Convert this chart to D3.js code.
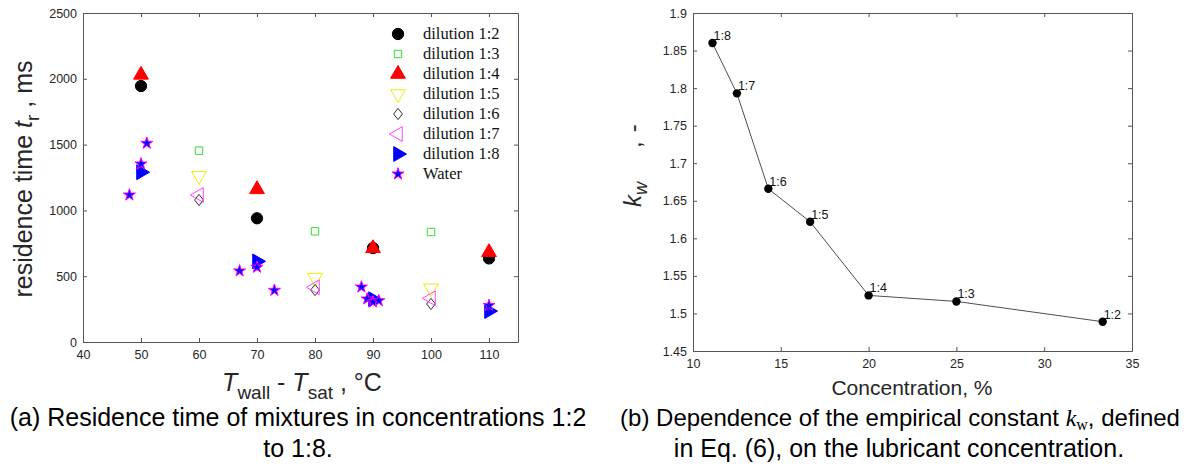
<!DOCTYPE html>
<html lang="en">
<head>
    <meta charset="UTF-8">
    <title>Residence time and k_w</title>
    <script src="https://d3js.org/d3.v7.min.js"></script>
    <style>
        body { margin: 0; background: #fff; }
        text { font-family: "Liberation Sans", Arial, sans-serif; }
    </style>
</head>
<body>
<div id="chart"></div>
<script>
    // ---- data, panel (a): residence time vs wall superheat ----
    var d12x = [50, 70, 90, 110];
    var d12y = [1945, 940, 714, 635];
    var d13x = [60, 80, 100];
    var d13y = [1454, 841, 836];
    var d14x = [50, 70, 90, 110];
    var d14y = [2030, 1160, 712, 682];
    var d15x = [60, 80, 100];
    var d15y = [1262, 489, 408];
    var d16x = [60, 80, 100];
    var d16y = [1079, 395, 289];
    var d17x = [60, 80, 100];
    var d17y = [1117, 416, 332];
    var d18x = [50, 70, 90, 110];
    var d18y = [1290, 613, 325, 235];
    var waterX = [48, 50, 51, 67, 70, 73, 88, 89, 90, 91, 110];
    var waterY = [1117, 1353, 1510, 540, 568, 393, 418, 327, 304, 314, 278];

    // ---- data, panel (b): k_w vs concentration ----
    var concLabels = ["1:8", "1:7", "1:6", "1:5", "1:4", "1:3", "1:2"];
    var concPct = [11.11, 12.5, 14.29, 16.67, 20, 25, 33.33];
    var kw = [1.860, 1.793, 1.666, 1.622, 1.524, 1.516, 1.489];

    var xTicksA = [40, 50, 60, 70, 80, 90, 100, 110];
    var yTicksA = [0, 500, 1000, 1500, 2000, 2500];
    var xTicksB = [10, 15, 20, 25, 30, 35];
    var yTicksB = [1.45, 1.5, 1.55, 1.6, 1.65, 1.7, 1.75, 1.8, 1.85, 1.9];

    var svg = d3.select("#chart").append("svg")
        .attr("width", 1187).attr("height", 472);

    var axisColor = "#555";
    var labelColor = "#262626";

    // MATLAB-like boxed axes, inward ticks on all sides
    function boxAxes(g, x, y, xt, yt, yFmt) {
        var w = x.range()[1] - x.range()[0];
        var h = y.range()[0] - y.range()[1];
        g.append("g").attr("transform", "translate(0," + h + ")")
            .call(d3.axisBottom(x).tickValues(xt).tickSizeInner(-4).tickSizeOuter(0).tickPadding(8));
        g.append("g")
            .call(d3.axisTop(x).tickValues(xt).tickSizeInner(-4).tickSizeOuter(0).tickFormat(""));
        g.append("g")
            .call(d3.axisLeft(y).tickValues(yt).tickSizeInner(-4).tickSizeOuter(0).tickPadding(6).tickFormat(yFmt));
        g.append("g").attr("transform", "translate(" + w + ",0)")
            .call(d3.axisRight(y).tickValues(yt).tickSizeInner(-4).tickSizeOuter(0).tickFormat(""));
        g.selectAll(".domain").attr("stroke", axisColor);
        g.selectAll(".tick line").attr("stroke", axisColor);
        g.selectAll(".tick text").attr("fill", labelColor)
            .style("font-size", "12.5px").style("font-family", "Liberation Sans, Arial, sans-serif");
    }

    // ================= panel (a) =================
    var gA = svg.append("g").attr("transform", "translate(83,13)");
    var xA = d3.scaleLinear().domain([40, 115]).range([0, 435]);
    var yA = d3.scaleLinear().domain([0, 2500]).range([329, 0]);
    boxAxes(gA, xA, yA, xTicksA, yTicksA, d3.format("d"));

    var series = [
        {name: "dilution 1:2", xs: d12x, ys: d12y, sym: d3.symbolCircle, size: 100, rot: 0, fill: "#000", stroke: "#000"},
        {name: "dilution 1:3", xs: d13x, ys: d13y, sym: d3.symbolSquare, size: 55, rot: 0, fill: "none", stroke: "#33dd33"},
        {name: "dilution 1:4", xs: d14x, ys: d14y, sym: d3.symbolTriangle, size: 95, rot: 0, fill: "#ff0000", stroke: "#ff0000"},
        {name: "dilution 1:5", xs: d15x, ys: d15y, sym: d3.symbolTriangle, size: 95, rot: 180, fill: "none", stroke: "#eeee00"},
        {name: "dilution 1:6", xs: d16x, ys: d16y, sym: d3.symbolDiamond2, size: 80, rot: 0, fill: "none", stroke: "#333", sx: 0.78},
        {name: "dilution 1:7", xs: d17x, ys: d17y, sym: d3.symbolTriangle, size: 95, rot: -90, fill: "none", stroke: "#ff44ff"},
        {name: "dilution 1:8", xs: d18x, ys: d18y, sym: d3.symbolTriangle, size: 95, rot: 90, fill: "#0000ff", stroke: "#0000ff"},
        {name: "Water", xs: waterX, ys: waterY, sym: d3.symbolStar, size: 45, rot: 0, fill: "#0000ff", stroke: "#ff00ff"}
    ];

    function drawMarker(sel, s) {
        sel.append("path")
            .attr("d", d3.symbol().type(s.sym).size(s.size))
            .attr("fill", s.fill)
            .attr("stroke", s.stroke)
            .attr("stroke-width", 1)
            .attr("vector-effect", "non-scaling-stroke");
    }

    series.forEach(function(s) {
        s.xs.forEach(function(xv, i) {
            var m = gA.append("g")
                .attr("transform", "translate(" + xA(xv) + "," + yA(s.ys[i]) + ") rotate(" + s.rot + ") scale(" + (s.sx || 1) + ",1)");
            drawMarker(m, s);
        });
    });

    // legend
    var leg = svg.append("g").attr("transform", "translate(398,34)");
    series.forEach(function(s, i) {
        var m = leg.append("g")
            .attr("transform", "translate(0," + (i * 20) + ") rotate(" + s.rot + ") scale(" + (s.sx || 1) + ",1)");
        drawMarker(m, s);
        leg.append("text")
            .attr("x", 25).attr("y", i * 20 + 5)
            .style("font-family", "Liberation Serif, 'DejaVu Serif', serif")
            .style("font-size", "16.5px")
            .attr("fill", "#111")
            .text(s.name);
    });

    // axis labels (a)
    var xl = svg.append("text").attr("x", 302).attr("y", 391)
        .attr("text-anchor", "middle").attr("fill", labelColor).style("font-size", "25px");
    xl.append("tspan").style("font-style", "italic").text("T");
    xl.append("tspan").attr("dy", 8).style("font-size", "19px").text("wall");
    xl.append("tspan").attr("dy", -8).text(" -  ");
    xl.append("tspan").style("font-style", "italic").text("T");
    xl.append("tspan").attr("dy", 8).style("font-size", "19px").text("sat");
    xl.append("tspan").attr("dy", -8).text(" , \u00B0C");

    var yl = svg.append("text").attr("transform", "translate(32,179) rotate(-90)")
        .attr("text-anchor", "middle").attr("fill", labelColor).style("font-size", "25px");
    yl.append("tspan").text("residence time  ");
    yl.append("tspan").style("font-style", "italic").text("t");
    yl.append("tspan").attr("dy", 7).style("font-size", "19px").text("r");
    yl.append("tspan").attr("dy", -7).text(" , ms");

    // ================= panel (b) =================
    var gB = svg.append("g").attr("transform", "translate(693,13)");
    var xB = d3.scaleLinear().domain([10, 35]).range([0, 439]);
    var yB = d3.scaleLinear().domain([1.45, 1.9]).range([338, 0]);
    boxAxes(gB, xB, yB, xTicksB, yTicksB, function(d) { return d3.format("")(+d.toFixed(2)); });

    var pts = concPct.map(function(c, i) { return [c, kw[i], concLabels[i]]; });
    gB.append("path")
        .datum(pts)
        .attr("fill", "none")
        .attr("stroke", "#3a3a3a")
        .attr("stroke-width", 0.9)
        .attr("d", d3.line().x(function(d) { return xB(d[0]); }).y(function(d) { return yB(d[1]); }));
    gB.selectAll("circle.pt").data(pts).enter().append("circle")
        .attr("class", "pt")
        .attr("cx", function(d) { return xB(d[0]); })
        .attr("cy", function(d) { return yB(d[1]); })
        .attr("r", 4.2)
        .attr("fill", "#000");
    gB.selectAll("text.lbl").data(pts).enter().append("text")
        .attr("class", "lbl")
        .attr("x", function(d) { return xB(d[0]) + 1; })
        .attr("y", function(d) { return yB(d[1]) - 3; })
        .attr("fill", "#111")
        .style("font-size", "12.5px")
        .text(function(d) { return d[2]; });

    svg.append("text").attr("x", 912).attr("y", 395)
        .attr("text-anchor", "middle").attr("fill", labelColor).style("font-size", "21px")
        .text("Concentration, %");

    var kl = svg.append("text").attr("transform", "translate(641,207) rotate(-90)")
        .attr("fill", labelColor).style("font-size", "24px");
    kl.append("tspan").style("font-style", "italic").text("k");
    kl.append("tspan").attr("dy", 6).style("font-style", "italic").style("font-size", "18px").text("w");
    kl.append("tspan").attr("dy", -6).attr("dx", 34).text(",");
    kl.append("tspan").attr("dx", 9).text("-");

    // ================= captions =================
    function caption(x, y, str, fs) {
        return svg.append("text").attr("x", x).attr("y", y)
            .attr("text-anchor", "middle").attr("fill", "#000")
            .style("font-size", fs).text(str);
    }
    caption(298, 426, "(a) Residence time of mixtures in concentrations 1:2", "25px");
    caption(298, 457, "to 1:8.", "25px");

    var cb = svg.append("text").attr("x", 900).attr("y", 426)
        .attr("text-anchor", "middle").attr("fill", "#000").style("font-size", "24px");
    cb.append("tspan").text("(b) Dependence of the empirical constant ");
    cb.append("tspan").style("font-family", "Liberation Serif, serif").style("font-style", "italic").text("k");
    cb.append("tspan").attr("dy", 4).style("font-family", "Liberation Serif, serif").style("font-size", "16px").text("w");
    cb.append("tspan").attr("dy", -4).text(", defined");
    caption(899, 457, "in Eq. (6), on the lubricant concentration.", "25px");
</script>
</body>
</html>
